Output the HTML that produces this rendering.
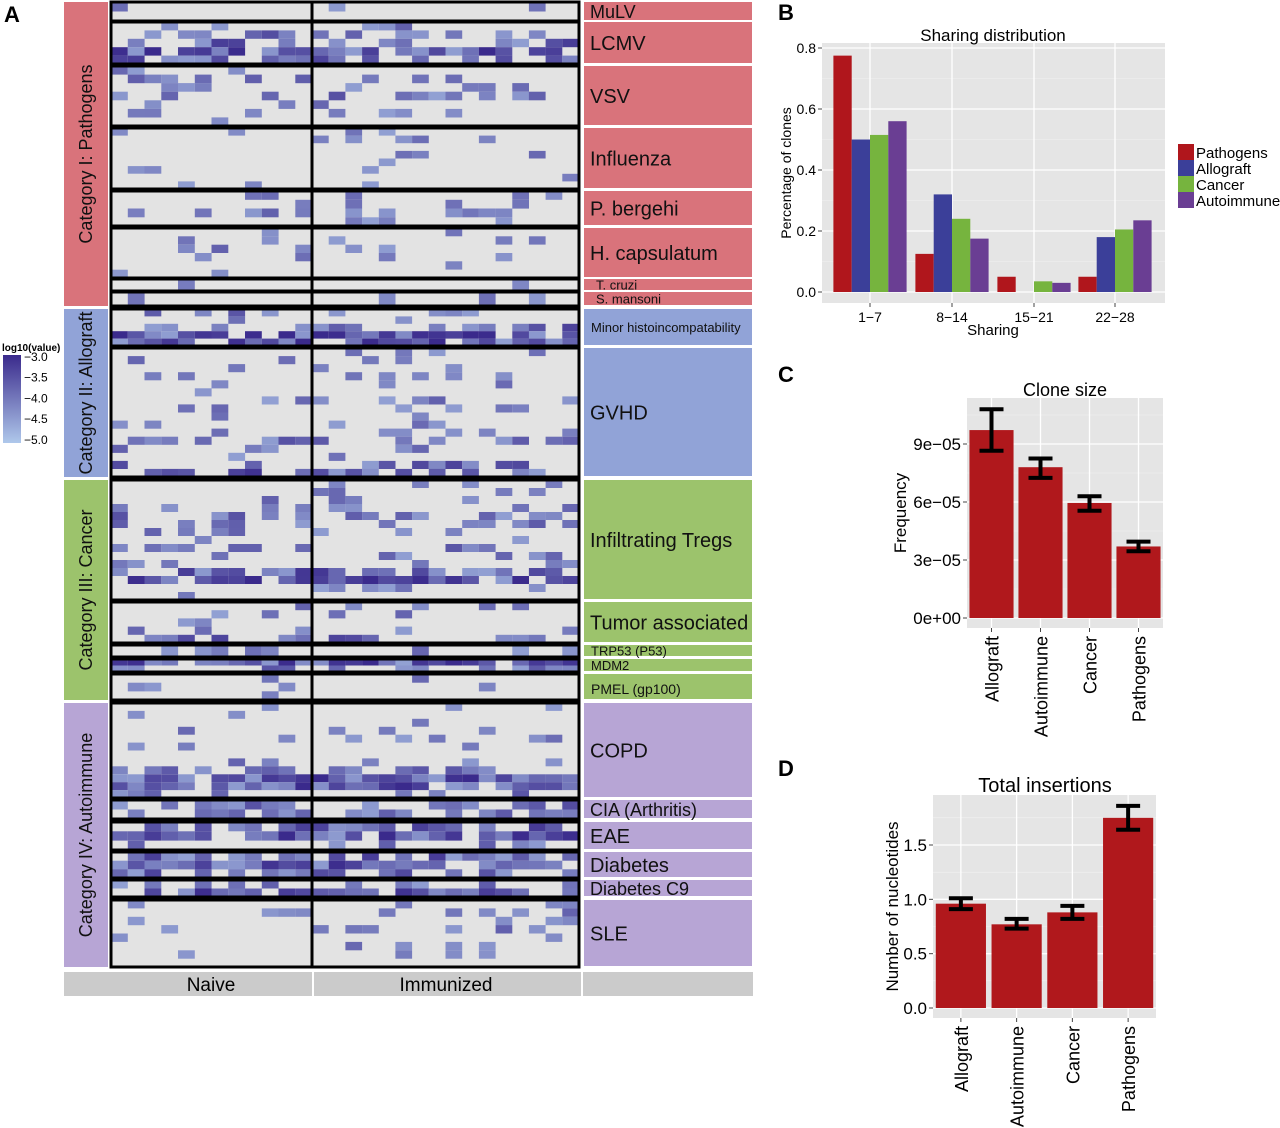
<!DOCTYPE html>
<html><head><meta charset="utf-8"><style>
body{margin:0;background:#fff;width:1280px;height:1128px;overflow:hidden;font-family:"Liberation Sans",sans-serif}
svg{display:block}
</style></head><body>
<svg id="fig" width="1280" height="1128" viewBox="0 0 1280 1128" xmlns="http://www.w3.org/2000/svg" font-family="Liberation Sans, sans-serif">
<text x="4" y="22" font-size="22" font-weight="bold">A</text>
<text x="778" y="20" font-size="22" font-weight="bold">B</text>
<text x="778" y="382" font-size="22" font-weight="bold">C</text>
<text x="778" y="776" font-size="22" font-weight="bold">D</text>
<g id="heat"></g>
<g id="chartB"></g>
<g id="chartC"></g>
<g id="chartD"></g>
</svg>
<script>
// ---------- Panel B data ----------
const bCategories = ["1\u22127","8\u221214","15\u221221","22\u221228"];
const bSeries = ["Pathogens","Allograft","Cancer","Autoimmune"];
const bPathogens = [0.775,0.125,0.05,0.05];
const bAllograft = [0.50,0.32,0,0.18];
const bCancer = [0.515,0.24,0.035,0.205];
const bAutoimmune = [0.56,0.175,0.03,0.235];
const bTicks = [0,0.2,0.4,0.6,0.8];
// ---------- Panel C data ----------
const cCategories = ["Allograft","Autoimmune","Cancer","Pathogens"];
const cValues = [9.72e-5,7.8e-5,5.95e-5,3.7e-5];
const cLow = [8.65e-5,7.25e-5,5.55e-5,3.45e-5];
const cHigh = [10.8e-5,8.25e-5,6.3e-5,3.95e-5];
const cTicks = [0,3e-5,6e-5,9e-5];
const cTickLabels = ["0e+00","3e\u221205","6e\u221205","9e\u221205"];
// ---------- Panel D data ----------
const dCategories = ["Allograft","Autoimmune","Cancer","Pathogens"];
const dValues = [0.96,0.77,0.88,1.75];
const dLow = [0.91,0.73,0.82,1.64];
const dHigh = [1.01,0.82,0.94,1.86];
const dTicks = [0,0.5,1.0,1.5];
const dTickLabels = ["0.0","0.5","1.0","1.5"];
// ---------- Heatmap data ----------
const hmCategories = ["Category I: Pathogens","Category II: Allograft","Category III: Cancer","Category IV: Autoimmune"];
const hmGroupNames = ["MuLV","LCMV","VSV","Influenza","P. bergehi","H. capsulatum","T. cruzi","S. mansoni","Minor histoincompatability","GVHD","Infiltrating Tregs","Tumor associated","TRP53 (P53)","MDM2","PMEL (gp100)","COPD","CIA (Arthritis)","EAE","Diabetes","Diabetes C9","SLE"];
const hmGroupCategory = [0,0,0,0,0,0,0,0,1,1,2,2,2,2,2,3,3,3,3,3,3];
// per-row density (0-9)
const hmRowDensity = ["11","24686","1324211","11111111","1121","112211","1","1","32599","1213212212242157","112243213217821","23125","2","84","111","111111127993","63","683","685","38","12121111"];

const NS="http://www.w3.org/2000/svg";
function mk(p,tag,attrs,name,txt){const e=document.createElementNS(NS,tag);for(const k in attrs)e.setAttribute(k,attrs[k]);


if(txt!==undefined)e.textContent=txt;p.appendChild(e);return e;}

// ---- Heatmap ----
(function(){
 const g=document.getElementById('heat');
 const groupY=[[2,21],[22,64],[66,126],[128,189],[191,226],[228,278],[279,291],[292,306],[309,346],[348,477],[480,600],[602,643],[645,657],[659,672],[674,700],[703,798],[800,819],[822,850],[852,878],[880,897],[900,967]];
 const catY=[[2,306],[309,477],[480,700],[703,967]];
 const catCol=["#d9737b","#91a3d7","#9cc36c","#b7a5d5"];
 catY.forEach((c,i)=>{
  mk(g,'rect',{x:64,y:c[0],width:44,height:c[1]-c[0],fill:catCol[i]},'category-strip');
  const cy=(c[0]+c[1])/2;
  mk(g,'text',{x:0,y:0,transform:`translate(92,${cy}) rotate(-90)`,'text-anchor':'middle','font-size':18,fill:'#111'},'category-label',hmCategories[i]);
 });
 const x0=111,x1=579,nC=12,nI=16,split=312;
 mk(g,'rect',{x:x0,y:2,width:x1-x0,height:965,fill:'#e3e3e3'},'heatmap-bg');
 const light=[175,200,235],dark=[58,42,140];
 function col(t){return `rgb(${light.map((l,i)=>Math.round(l+(dark[i]-l)*t)).join(',')})`;}
 function hsh(a,b,c){let h=(a*73856093)^(b*19349663)^(c*83492791);h=(h^(h>>>13))*1274126177;h=h^(h>>>16);return ((h>>>0)%1000)/1000;}
 hmRowDensity.forEach((s,gi)=>{
  const [ya,yb]=groupY[gi];const n=s.length;const rh=(yb-ya)/n;
  for(let r=0;r<n;r++){
   const d=+s[r]/10;
   for(let c=0;c<nC+nI;c++){
    const cx=c<nC?x0+c*(split-x0)/nC:split+(c-nC)*(x1-split)/nI;
    const cw=c<nC?(split-x0)/nC:(x1-split)/nI;
    if(hsh(gi,r,c)<d){
     const t=Math.min(1,0.25+0.6*hsh(c,gi,r+7)*(0.5+d));
     mk(g,'rect',{x:cx.toFixed(1),y:(ya+r*rh).toFixed(1),width:cw.toFixed(1),height:rh.toFixed(1),fill:col(t)},'heatmap-cell');
    }
   }
  }
  mk(g,'rect',{x:x0,y:ya,width:split-x0,height:yb-ya,fill:'none',stroke:'#000','stroke-width':3},'group-box-naive');
  mk(g,'rect',{x:split,y:ya,width:x1-split,height:yb-ya,fill:'none',stroke:'#000','stroke-width':3},'group-box-immunized');
  const cc=catCol[hmGroupCategory[gi]];
  mk(g,'rect',{x:584,y:ya,width:168,height:yb-ya-1,fill:cc},'group-label-box');
  const h=yb-ya;const fs=h<16?13:(gi===8?13:(h<22?18:20));
  const small=h<16||gi===8||gi===14;
  mk(g,'text',{x:small?(gi===6||gi===7?596:591):590,y:(ya+yb)/2+fs*0.36,'font-size':gi===14?14:fs,fill:'#111'},'group-label',hmGroupNames[gi]);
 });
 const lg=mk(g,'g',{},'color-legend');
 const gd=mk(lg,'defs',{},'legend-defs');
 const lgr=mk(gd,'linearGradient',{id:'lgGrad',x1:0,y1:0,x2:0,y2:1},'legend-gradient');
 mk(lgr,'stop',{offset:0,'stop-color':col(1)},'stop');mk(lgr,'stop',{offset:1,'stop-color':col(0)},'stop');
 mk(lg,'text',{x:2,y:351,'font-size':10,'font-weight':'bold'},'legend-title','log10(value)');
 mk(lg,'rect',{x:3,y:355,width:18,height:88,fill:'url(#lgGrad)'},'legend-bar');
 ["\u22123.0","\u22123.5","\u22124.0","\u22124.5","\u22125.0"].forEach((t,i)=>mk(lg,'text',{x:24,y:361+i*20.7,'font-size':12},'legend-tick',t));
 mk(g,'rect',{x:64,y:972,width:689,height:24,fill:'#cbcbcb'},'bottom-strip');
 mk(g,'line',{x1:313,y1:972,x2:313,y2:996,stroke:'#fff','stroke-width':2},'strip-divider');
 mk(g,'line',{x1:582,y1:972,x2:582,y2:996,stroke:'#fff','stroke-width':2},'strip-divider');
 mk(g,'text',{x:211,y:991,'font-size':19,'text-anchor':'middle'},'naive-label','Naive');
 mk(g,'text',{x:446,y:991,'font-size':19,'text-anchor':'middle'},'immunized-label','Immunized');
})();

// ---- Panel B ----
(function(){
 const g=document.getElementById('chartB');
 const L=822,R=1165,T=43,B=303;const y0=292,y8=48;
 const sy=v=>y0+(y8-y0)*v/0.8;
 const cx=[870,952,1034,1115];
 mk(g,'rect',{x:L,y:T,width:R-L,height:B-T,fill:'#e5e5e5'},'plot-bg');
 [0.1,0.3,0.5,0.7].forEach(v=>mk(g,'line',{x1:L,x2:R,y1:sy(v),y2:sy(v),stroke:'#f2f2f2','stroke-width':0.6},'minor-grid'));
 bTicks.forEach(v=>{mk(g,'line',{x1:L,x2:R,y1:sy(v),y2:sy(v),stroke:'#fff','stroke-width':1.3},'grid-line');
  mk(g,'line',{x1:L-4,x2:L,y1:sy(v),y2:sy(v),stroke:'#444'},'tick');
  mk(g,'text',{x:L-6,y:sy(v)+5,'text-anchor':'end','font-size':14},'y-tick-label',v.toFixed(1));});
 cx.forEach((x,i)=>{mk(g,'line',{x1:x,x2:x,y1:T,y2:B,stroke:'#fff','stroke-width':1.3},'grid-line');
  mk(g,'line',{x1:x,x2:x,y1:B,y2:B+4,stroke:'#444'},'tick');
  mk(g,'text',{x:x,y:B+19,'text-anchor':'middle','font-size':14},'x-tick-label',bCategories[i]);});
 const series=[bPathogens,bAllograft,bCancer,bAutoimmune];const cols=["#b0161c","#3b3f99","#76b43e","#6a3e93"];
 const bw=18.3;
 series.forEach((s,k)=>s.forEach((v,i)=>{if(v>0)mk(g,'rect',{x:cx[i]-2*bw+k*bw,y:sy(v),width:bw,height:y0-sy(v),fill:cols[k]},'bar-'+bSeries[k].toLowerCase());}));
 mk(g,'text',{x:993,y:41,'text-anchor':'middle','font-size':17},'chart-title','Sharing distribution');
 mk(g,'text',{x:993,y:335,'text-anchor':'middle','font-size':15},'x-axis-title','Sharing');
 mk(g,'text',{x:0,y:0,transform:'translate(791,173) rotate(-90)','text-anchor':'middle','font-size':14},'y-axis-title','Percentage of clones');
 bSeries.forEach((s,k)=>{mk(g,'rect',{x:1178,y:144+k*16,width:16,height:16,fill:cols[k]},'legend-swatch');
  mk(g,'text',{x:1196,y:158+k*16,'font-size':15},'legend-entry',s);});
})();

// ---- Panel C & D ----
function barChart(id,cfg){
 const g=document.getElementById(id);const {L,R,T,B,y0,yRef,vRef,cats,vals,lo,hi,ticks,tl,minor,title,ytitle,tx,ty,ytx}=cfg;
 const sy=v=>y0+(yRef-y0)*v/vRef;
 mk(g,'rect',{x:L,y:T,width:R-L,height:B-T,fill:'#e5e5e5'},'plot-bg');
 minor.forEach(v=>mk(g,'line',{x1:L,x2:R,y1:sy(v),y2:sy(v),stroke:'#f2f2f2','stroke-width':0.6},'minor-grid'));
 const n=cats.length,step=(R-L)/n;
 cats.forEach((c,i)=>{const x=L+step*(i+0.5);mk(g,'line',{x1:x,x2:x,y1:T,y2:B,stroke:'#fff','stroke-width':1.3},'grid-line');
  mk(g,'line',{x1:x,x2:x,y1:B,y2:B+4,stroke:'#444'},'tick');
  mk(g,'text',{x:0,y:0,transform:`translate(${x+7},${B+8}) rotate(-90)`,'text-anchor':'end','font-size':18},'x-tick-label',c);});
 ticks.forEach((v,i)=>{mk(g,'line',{x1:L,x2:R,y1:sy(v),y2:sy(v),stroke:'#fff','stroke-width':1.3},'grid-line');
  mk(g,'line',{x1:L-4,x2:L,y1:sy(v),y2:sy(v),stroke:'#444'},'tick');
  mk(g,'text',{x:L-6,y:sy(v)+6,'text-anchor':'end','font-size':17},'y-tick-label',tl[i]);});
 const bw=step*0.9;
 vals.forEach((v,i)=>{const x=L+step*(i+0.5);
  mk(g,'rect',{x:x-bw/2,y:sy(v),width:bw,height:y0-sy(v),fill:'#b0181c'},'bar-'+cats[i].toLowerCase());
  const e=mk(g,'g',{stroke:'#000','stroke-width':4},'error-bar');
  mk(e,'line',{x1:x,x2:x,y1:sy(lo[i]),y2:sy(hi[i])},'error-stem');
  mk(e,'line',{x1:x-12,x2:x+12,y1:sy(lo[i]),y2:sy(lo[i])},'error-cap');
  mk(e,'line',{x1:x-12,x2:x+12,y1:sy(hi[i]),y2:sy(hi[i])},'error-cap');});
 mk(g,'text',{x:tx,y:ty,'text-anchor':'middle','font-size':cfg.tfs||18},'chart-title',title);
 mk(g,'text',{x:0,y:0,transform:`translate(${ytx},${(T+B)/2}) rotate(-90)`,'text-anchor':'middle','font-size':17},'y-axis-title',ytitle);
}
barChart('chartC',{L:967,R:1163,T:398,B:628,y0:618,yRef:444,vRef:9e-5,cats:cCategories,vals:cValues,lo:cLow,hi:cHigh,ticks:cTicks,tl:cTickLabels,minor:[1.5e-5,4.5e-5,7.5e-5,10.5e-5],title:'Clone size',ytitle:'Frequency',tx:1065,ty:396,ytx:906});
barChart('chartD',{L:933,R:1156,T:795,B:1018,y0:1008,yRef:845,vRef:1.5,cats:dCategories,vals:dValues,lo:dLow,hi:dHigh,ticks:dTicks,tl:dTickLabels,minor:[0.25,0.75,1.25,1.75],title:'Total insertions',ytitle:'Number of nucleotides',tx:1045,ty:792,ytx:898,tfs:20});
</script>
</body></html>
